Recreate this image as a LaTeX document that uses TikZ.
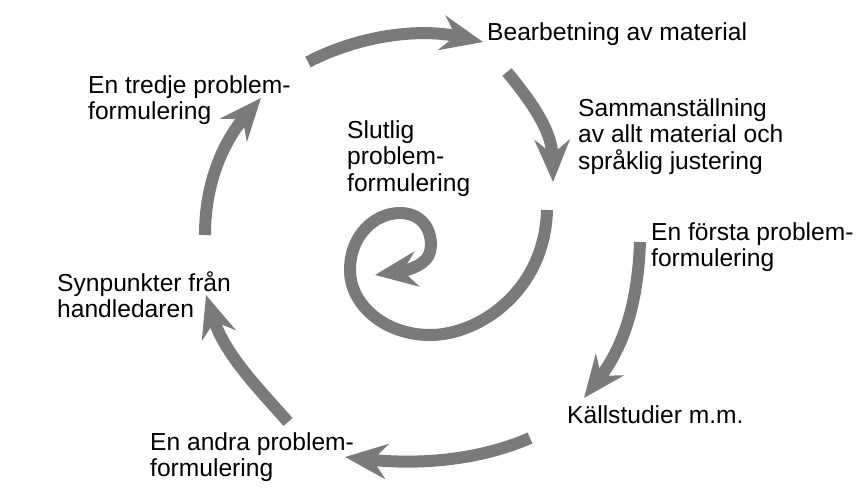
\documentclass[tikz,border=0pt]{standalone}
\usepackage{fontspec}
\setmainfont{Liberation Sans}
\usetikzlibrary{arrows.meta}
\tikzset{
  lbl/.style={anchor=north west, inner sep=0pt, align=left, font=\fontsize{24.6}{26.5}\selectfont},
  flow/.style={draw=black!52, line width=12pt,
    -{Stealth[length=42pt,width=35pt,inset=14pt,fill=black!52]}},
}
\begin{document}
\begin{tikzpicture}[x=1pt,y=-1pt]
\useasboundingbox (0,0) rectangle (858,503);
% labels
\node[lbl] (bearb) at (487,22) {Bearbetning av material};
\node[lbl] (tredje) at (88,75) {En tredje problem-\\formulering};
\node[lbl] (slut) at (347,120) {Slutlig\\problem-\\formulering};
\node[lbl] (samman) at (578,98) {Sammanställning\\av allt material och\\språklig justering};
\node[lbl] (forsta) at (651,222) {En första problem-\\formulering};
\node[lbl] (synp) at (57,271) {Synpunkter från\\handledaren};
\node[lbl] (kall) at (567,405) {Källstudier m.m.};
\node[lbl] (andra) at (150,432) {En andra problem-\\formulering};
% connector end points
\coordinate (a1) at (308,62);  \coordinate (a2) at (483,42);
\coordinate (b1) at (507,72);  \coordinate (b2) at (553,182);
\coordinate (c1) at (547,210); \coordinate (c2) at (375,275);
\coordinate (d1) at (640,242); \coordinate (d2) at (584,398);
\coordinate (e1) at (530,438); \coordinate (e2) at (345,457);
\coordinate (f1) at (288,422); \coordinate (f2) at (206,295);
\coordinate (g1) at (205,235); \coordinate (g2) at (261,98);
% arrows
\draw[flow] (a1) .. controls (360,35) and (420,28) .. (a2);
\draw[flow] (b1) .. controls (530,100) and (552,130) .. (b2);
\draw[flow] (c1) .. controls (545,290) and (480,335) .. (430,335)
  .. controls (385,335) and (350,305) .. (350,270)
  .. controls (350,235) and (375,213) .. (400,213)
  .. controls (425,213) and (434,235) .. (430,252)
  .. controls (427,264) and (410,270) .. (c2);
\draw[flow] (d1) .. controls (638,300) and (625,345) .. (d2);
\draw[flow] (e1) .. controls (480,460) and (420,465) .. (e2);
\draw[flow] (f1) .. controls (260,390) and (225,355) .. (f2);
\draw[flow] (g1) .. controls (205,180) and (225,140) .. (g2);
\end{tikzpicture}
\end{document}
